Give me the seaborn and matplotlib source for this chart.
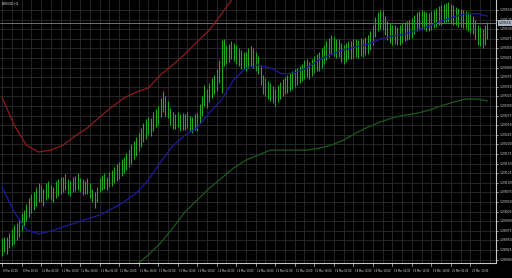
import numpy as np
import pandas as pd
import matplotlib
matplotlib.use("Agg")
import matplotlib.pyplot as plt
import seaborn as sns

# ---- data (prices) ----
bar_low_pts = [10,20,15,30,35,40,50,60,75,85,100,110,120,130,140,150,150,140,155,160,
               155,150,160,165,170,175,180,170,165,175,178,180,175,168,170,172,160,150,135,150,
               175,182,185,180,188,192,200,205,210,218,225,232,240,250,262,270,282,292,305,315,
               325,322,335,345,350,370,385,375,368,350,340,340,345,335,338,338,342,335,330,338,
               336,355,375,400,395,410,420,430,440,460,434,505,510,515,522,518,510,505,495,495,
               490,500,505,500,490,482,455,430,425,418,412,408,400,410,418,425,430,435,440,445,
               450,455,460,465,470,475,470,478,485,490,492,500,510,520,528,535,530,525,528,515,
               510,515,522,522,525,528,525,530,528,532,535,545,560,580,595,600,598,585,572,565,
               560,562,558,560,565,568,572,575,578,588,595,598,600,600,595,595,598,602,605,610,
               612,615,618,620,615,612,610,605,605,602,600,595,590,588,575,560,555,550,560,575]
bar_high_pts = [55,60,58,70,80,90,95,105,120,130,145,160,170,175,190,200,195,185,200,205,
                195,190,205,210,215,215,222,210,205,215,218,225,212,210,205,212,200,185,175,190,
                212,220,225,215,228,232,240,248,255,262,268,278,285,300,310,320,330,342,355,365,
                372,368,385,392,400,420,440,425,412,395,385,380,385,378,382,378,385,375,372,380,
                382,405,425,455,445,460,472,480,495,520,572,575,560,562,570,565,560,552,545,540,
                540,550,555,552,540,530,505,480,472,465,460,452,445,455,462,470,475,480,485,490,
                495,500,505,510,520,522,515,522,530,535,540,550,560,570,578,585,580,575,575,565,
                558,565,570,570,575,575,572,578,575,580,585,595,610,632,645,650,650,635,622,615,
                610,612,605,610,615,618,622,625,628,638,645,648,650,648,645,642,648,650,655,660,
                662,665,668,672,665,662,658,655,652,650,648,645,640,635,625,610,605,600,610,620]
base_price = 1.08900
bar_low = [base_price + v * 1e-5 for v in bar_low_pts]
bar_high = [base_price + v * 1e-5 for v in bar_high_pts]

line_idx = [0,5,10,15,20,25,30,35,40,45,50,55,60,65,70,75,80,85,90,95,
            100,105,110,115,120,125,130,135,140,145,150,155,160,165,170,175,180,185,190,195,199]
blue_pts = [189,124,77,67,74,85,95,106,116,132,150,173,207,254,296,324,343,382,416,468,
            499,507,499,483,486,499,520,535,546,554,561,574,582,587,598,608,621,632,640,640,634]
red_idx = [0,5,10,15,20,25,30,35,40,45,50,55,60,65,70,75,80,85,90,95]
red_pts = [423,350,298,280,285,298,322,343,371,397,421,436,447,481,507,535,567,598,640,684]
green_idx = [50,55,60,65,70,75,80,85,90,95,100,105,110,115,120,125,130,135,140,145,
             150,155,160,165,170,175,180,185,190,195,199]
green_pts = [-40,-14,12,43,82,124,155,186,212,239,259,272,285,285,285,285,290,298,311,329,
             345,358,369,376,381,389,400,410,418,418,413]
current_price = 1.09516

price_ticks = [1.08900 + 0.00025 * k for k in range(27)]
time_labels = ["8 Mar 10:00", "8 Mar 18:00", "11 Mar 02:00", "11 Mar 10:00", "11 Mar 18:00",
               "12 Mar 02:00", "12 Mar 10:00", "12 Mar 18:00", "13 Mar 02:00", "13 Mar 10:00",
               "13 Mar 18:00", "14 Mar 02:00", "14 Mar 10:00", "14 Mar 18:00", "15 Mar 02:00",
               "15 Mar 10:00", "15 Mar 18:00", "18 Mar 02:00", "18 Mar 10:00", "18 Mar 18:00",
               "19 Mar 02:00", "19 Mar 10:00", "19 Mar 18:00", "20 Mar 02:00", "20 Mar 10:00"]
time_label_idx = [8 * k for k in range(len(time_labels))]

# ---- figure ----
sns.set_style("dark")
plt.rcParams['font.family'] = ['DejaVu Sans']
fig = plt.figure(figsize=(5.12, 2.78), dpi=100, facecolor="black")
W, H = 512, 278
ax = fig.add_axes([0, 15 / H, 496 / W, 263 / H])
ax.set_facecolor("black")

x_bars = np.arange(len(bar_low))
ax.set_xlim(-0.82, 202.5)
ax.set_ylim(1.08891, 1.09576)

# grid
for p in price_ticks:
    ax.axhline(p, color="#2a2a30", lw=0.6, zorder=0)
for gx in range(0, 204, 4):
    ax.axvline(gx, color="#2a2a30", lw=0.6, zorder=0)

# current price line
ax.axhline(current_price, color="#6e6e6e", lw=0.7, zorder=1)

# bars
ax.vlines(x_bars, bar_low, bar_high, color="#22a822", lw=0.8, zorder=3)

df_blue = pd.DataFrame({"i": line_idx, "v": [base_price + v * 1e-5 for v in blue_pts]})
df_red = pd.DataFrame({"i": red_idx, "v": [base_price + v * 1e-5 for v in red_pts]})
df_green = pd.DataFrame({"i": green_idx, "v": [base_price + v * 1e-5 for v in green_pts]})
sns.lineplot(data=df_blue, x="i", y="v", ax=ax, color="#1c1c9c", lw=0.9, zorder=4)
sns.lineplot(data=df_red, x="i", y="v", ax=ax, color="#8e1b1b", lw=0.9, zorder=4)
sns.lineplot(data=df_green, x="i", y="v", ax=ax, color="#1c5a1c", lw=0.9, zorder=4)

ax.set_xlabel("")
ax.set_ylabel("")
ax.set_xticks([])
ax.set_yticks([])
for s in ["top", "left"]:
    ax.spines[s].set_visible(False)
ax.spines["right"].set_color("#c8c8c8")
ax.spines["bottom"].set_color("#c8c8c8")
ax.spines["right"].set_linewidth(0.8)
ax.spines["bottom"].set_linewidth(0.8)

# price labels on right
trans_y = matplotlib.transforms.blended_transform_factory(ax.transAxes, ax.transData)
for p in price_ticks:
    ax.plot([1.0, 1.005], [p, p], transform=trans_y, color="#c8c8c8", lw=0.5, clip_on=False)
    ax.text(1.008, p, f"{p:.5f}", transform=trans_y, color="#d8d8d8", fontsize=2.2,
            va="center", ha="left", clip_on=False)
ax.text(1.006, current_price, f"{current_price:.5f}", transform=trans_y, color="black",
        fontsize=2.2, va="center", ha="left", clip_on=False,
        bbox=dict(boxstyle="square,pad=0.3", fc="#a9b4c2", ec="none"))

# time labels
trans_x = matplotlib.transforms.blended_transform_factory(ax.transData, ax.transAxes)
for xi, lab in zip(time_label_idx, time_labels):
    ax.plot([xi, xi], [0, -0.012], transform=trans_x, color="#c8c8c8", lw=0.5, clip_on=False)
    ax.text(xi + 0.5, -0.022, lab, transform=trans_x, color="#d8d8d8", fontsize=1.8,
            va="top", ha="left", clip_on=False)

ax.text(0.004, 0.994, "EURUSD,H1", transform=ax.transAxes, color="#d8d8d8", fontsize=2.2,
        va="top", ha="left")

fig.savefig("out.png", dpi=100, facecolor="black")
